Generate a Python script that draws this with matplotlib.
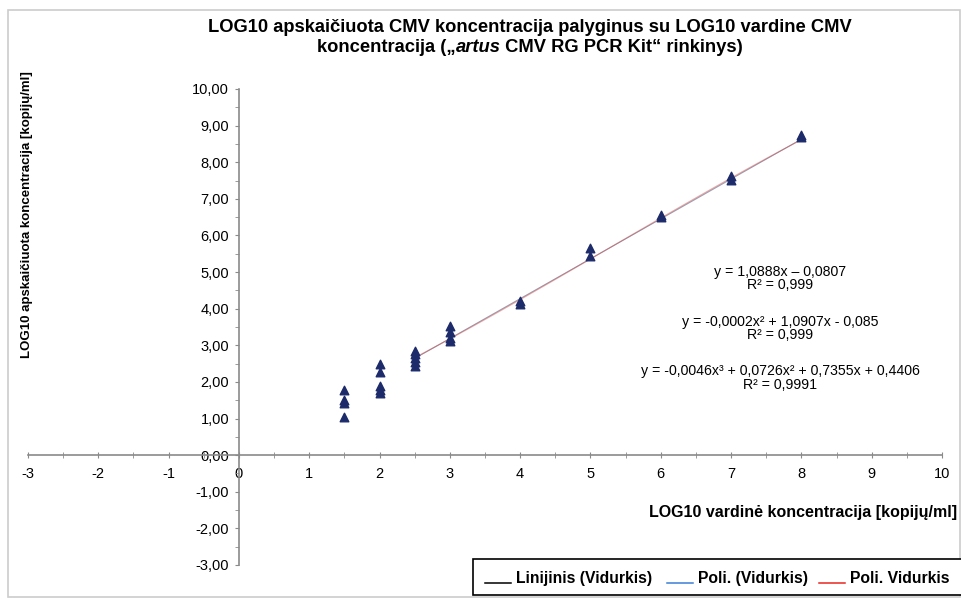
import matplotlib
matplotlib.use('agg')
import matplotlib.pyplot as plt
import numpy as np
from matplotlib.ticker import MultipleLocator, FuncFormatter
from matplotlib.lines import Line2D
from matplotlib.patches import Rectangle

plt.rcParams['font.family'] = ['Liberation Sans', 'DejaVu Sans']

# measured points (x = nominal log10, y = calculated log10)
x_15 = [1.5, 1.5, 1.5, 1.5]
y_15 = [1.78, 1.50, 1.42, 1.04]
x_20 = [2.0, 2.0, 2.0, 2.0, 2.0]
y_20 = [2.49, 2.26, 1.89, 1.78, 1.69]
x_25 = [2.5, 2.5, 2.5, 2.5, 2.5]
y_25 = [2.85, 2.75, 2.65, 2.55, 2.43]
x_30 = [3.0, 3.0, 3.0, 3.0]
y_30 = [3.52, 3.35, 3.20, 3.12]
x_hi = [4.0, 4.0, 5.0, 5.0, 6.0, 6.0, 7.0, 7.0, 8.0, 8.0]
y_hi = [4.20, 4.12, 5.65, 5.45, 6.56, 6.50, 7.62, 7.52, 8.74, 8.68]

# trendline coefficients (highest power first)
lin_coef = [1.0888, -0.0807]
poly2_coef = [-0.0002, 1.0907, -0.085]
poly3_coef = [-0.0046, 0.0726, 0.7355, 0.4406]
trend_x = [2.5, 8.0]

eq_texts = [
    "y = 1,0888x – 0,0807\nR² = 0,999",
    "y = -0,0002x² + 1,0907x - 0,085\nR² = 0,999",
    "y = -0,0046x³ + 0,0726x² + 0,7355x + 0,4406\nR² = 0,9991",
]
legend_labels = ["Linijinis (Vidurkis)", "Poli. (Vidurkis)", "Poli. Vidurkis"]
legend_colors = ["black", "#3b7fd4", "#e8261f"]

W, H = 962, 601
fig = plt.figure(figsize=(W / 100, H / 100), dpi=100)
fig.patches.append(Rectangle((8 / W, 4 / H), 952 / W, 587 / H,
                             transform=fig.transFigure, fill=False,
                             edgecolor='#cccccc', linewidth=1.2))
ax = fig.add_axes([28 / W, 36 / H, 914 / W, 476 / H])

xs = np.linspace(trend_x[0], trend_x[1], 100)
ax.plot(xs, np.polyval(lin_coef, xs), color='black', lw=0.7, alpha=0.3)
ax.plot(xs, np.polyval(poly2_coef, xs), color='#3b7fd4', lw=0.7, alpha=0.25)
ax.plot(xs, np.polyval(poly3_coef, xs), color='#d04040', lw=0.9, alpha=0.45)

px = x_15 + x_20 + x_25 + x_30 + x_hi
py = y_15 + y_20 + y_25 + y_30 + y_hi
ax.scatter(px, py, marker='^', s=38, color='#1d2b6b', zorder=3)

ax.set_xlim(-3, 10)
ax.set_ylim(-3, 10)
for s in ['top', 'right']:
    ax.spines[s].set_visible(False)
ax.spines['left'].set_position(('data', 0))
ax.spines['bottom'].set_position(('data', 0))
for s in ['left', 'bottom']:
    ax.spines[s].set_color('#8a8a8a')
    ax.spines[s].set_linewidth(1.2)

ax.xaxis.set_major_locator(MultipleLocator(1))
ax.xaxis.set_minor_locator(MultipleLocator(0.5))
ax.yaxis.set_major_locator(MultipleLocator(1))
ax.yaxis.set_minor_locator(MultipleLocator(0.5))
ax.yaxis.set_major_formatter(FuncFormatter(lambda v, p: f"{v:.2f}".replace('.', ',')))
ax.xaxis.set_major_formatter(FuncFormatter(lambda v, p: f"{v:.0f}"))
ax.tick_params(axis='x', which='both', direction='inout', length=5, color='#8a8a8a',
               labelsize=10.5, pad=6)
ax.tick_params(axis='y', which='both', direction='out', length=3, color='#8a8a8a',
               labelsize=10.5, pad=4)

for i, t in enumerate(eq_texts):
    ax.text(7.7, 5.2 - i * 1.36, t, ha='center', va='top', fontsize=10.2,
            linespacing=0.95)

# title
fs_title = 13.2
fig.text(530 / W, 1 - 28 / H,
         "LOG10 apskaičiuota CMV koncentracija palyginus su LOG10 vardine CMV",
         ha='center', va='center', fontsize=fs_title, fontweight='bold')
parts = [("koncentracija (\u201e", 'normal'), ("artus", 'italic'),
         (" CMV RG PCR Kit\u201c rinkinys)", 'normal')]
tobjs = [fig.text(0, 1 - 48 / H, s, ha='left', va='center', fontsize=fs_title,
                  fontweight='bold', style=st) for s, st in parts]
fig.canvas.draw()
r = fig.canvas.get_renderer()
widths = [t.get_window_extent(r).width for t in tobjs]
x0 = 530 - sum(widths) / 2
for t, w in zip(tobjs, widths):
    t.set_x(x0 / W)
    x0 += w

fig.text(27 / W, 1 - 215 / H, "LOG10 apskaičiuota koncentracija [kopijų/ml]",
         rotation=90, ha='center', va='center', fontsize=9.5, fontweight='bold')
fig.text(957 / W, 1 - 512 / H, "LOG10 vardinė koncentracija [kopijų/ml]",
         ha='right', va='center', fontsize=11.5, fontweight='bold')

# legend box, running off the right edge like the original
fig.patches.append(Rectangle((473 / W, 6 / H), 500 / W, 36 / H,
                             transform=fig.transFigure, fill=True,
                             facecolor='white', edgecolor='black', linewidth=1.2,
                             zorder=5))
leg_handle_x = [485, 667, 819]
for hx, lab, col in zip(leg_handle_x, legend_labels, legend_colors):
    fig.lines.append(Line2D([hx / W, (hx + 26) / W], [18 / H, 18 / H],
                            transform=fig.transFigure, color=col, lw=1.1,
                            zorder=6))
    fig.text((hx + 31) / W, 18 / H, lab, ha='left', va='baseline',
             fontsize=11.3, fontweight='bold', zorder=6)

fig.savefig('out.png', dpi=100)
